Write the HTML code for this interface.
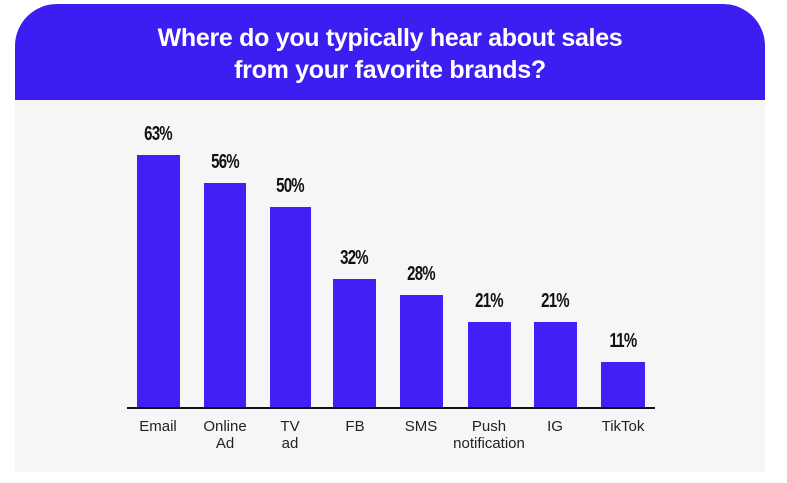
<!DOCTYPE html>
<html><head><style>
body{margin:0;width:787px;height:483px;background:#fff;position:relative;overflow:hidden;font-family:"Liberation Sans",sans-serif}
.card{position:absolute;left:15px;top:100px;width:750px;height:372px;background:#f6f6f7}
.head{position:absolute;left:15px;top:4px;width:750px;height:96px;background:#3d1ef2;border-radius:42px 42px 0 0;color:#fff;text-align:center;font-weight:bold;font-size:25px;line-height:32px;box-sizing:border-box;padding-top:18px;letter-spacing:-0.3px}
.bar{position:absolute;background:#4120f7;bottom:75px}
.pct{position:absolute;width:60px;text-align:center;font-weight:bold;font-size:20px;transform:scaleX(0.75);letter-spacing:-1px;color:#111}
.lab{position:absolute;width:100px;text-align:center;font-size:15px;line-height:17px;color:#222;top:418px}
.axis{position:absolute;left:127px;top:407px;width:528px;height:2px;background:#111}
</style></head><body>
<div class="card"></div>
<div class="head">Where do you typically hear about sales<br>from your favorite brands?</div>
<div class="bar" style="left:137px;width:43px;top:155px;height:253px"></div>
<div class="bar" style="left:204px;width:42px;top:183px;height:225px"></div>
<div class="bar" style="left:270px;width:41px;top:207px;height:201px"></div>
<div class="bar" style="left:333px;width:43px;top:279px;height:129px"></div>
<div class="bar" style="left:400px;width:43px;top:295px;height:113px"></div>
<div class="bar" style="left:468px;width:43px;top:322px;height:86px"></div>
<div class="bar" style="left:534px;width:43px;top:322px;height:86px"></div>
<div class="bar" style="left:601px;width:44px;top:362px;height:46px"></div>
<div class="axis"></div>
<div class="pct" style="left:128px;top:123px">63%</div>
<div class="pct" style="left:195px;top:151px">56%</div>
<div class="pct" style="left:260px;top:175px">50%</div>
<div class="pct" style="left:324px;top:247px">32%</div>
<div class="pct" style="left:391px;top:263px">28%</div>
<div class="pct" style="left:459px;top:290px">21%</div>
<div class="pct" style="left:525px;top:290px">21%</div>
<div class="pct" style="left:593px;top:330px">11%</div>
<div class="lab" style="left:108px">Email</div>
<div class="lab" style="left:175px">Online<br>Ad</div>
<div class="lab" style="left:240px">TV<br>ad</div>
<div class="lab" style="left:305px">FB</div>
<div class="lab" style="left:371px">SMS</div>
<div class="lab" style="left:439px">Push<br>notification</div>
<div class="lab" style="left:505px">IG</div>
<div class="lab" style="left:573px">TikTok</div>
</body></html>
